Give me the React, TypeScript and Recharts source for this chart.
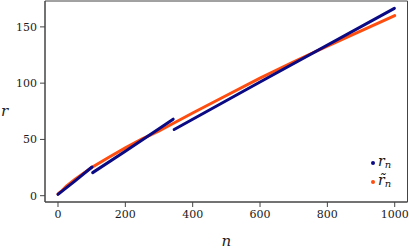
import { ComposedChart, Line, XAxis, YAxis, ReferenceArea } from "recharts";

const xTicks = [0, 200, 400, 600, 800, 1000];
const yTicks = [0, 50, 100, 150];

// r_n comes in three straight-ish pieces with jumps between them
const rSeg1N = [0, 50, 101];
const rSeg1 = [1.2, 13, 25.5];
const rSeg2N = [103, 200, 342];
const rSeg2 = [20.5, 39.5, 68];
const rSeg3N = [345, 600, 999];
const rSeg3 = [58.8, 101, 166.5];

// smoothed estimate
const rTildeN = [0, 10, 25, 50, 100, 150, 200, 250, 300, 350, 400, 500, 600, 700, 800, 900, 1000];
const rTilde = [1.5, 4, 8.5, 14.5, 25, 34, 42.5, 50.5, 57.5, 65.5, 73.5, 89, 104.5, 119, 133, 146.5, 160];

const toRows = (ns: number[], vs: number[]) => ns.map((n, i) => ({ n, r: vs[i] }));

const BLUE = "#0a0a84";
const ORANGE = "#ff4d0f";
const FONT = "'DejaVu Serif', serif";
const xDomain: [number, number] = [-38.6, 1038];
const yDomain: [number, number] = [-5.6, 173];

const legendItems = [
  { color: BLUE, base: "r" },
  { color: ORANGE, base: "r\u0303" },
];

function LegendBox() {
  return (
    <div
      style={{
        position: "absolute",
        left: 371,
        top: 154,
        width: 36,
        fontFamily: FONT,
        lineHeight: 1,
      }}
    >
      {legendItems.map((it) => (
        <div
          key={it.base}
          style={{ display: "flex", alignItems: "center", height: 18.6 }}
        >
          <span
            style={{
              width: 4,
              height: 4,
              borderRadius: 2,
              background: it.color,
              marginRight: 3,
              flex: "none",
            }}
          />
          <span style={{ fontStyle: "italic", fontSize: 14, color: "#111", position: "relative", top: -2 }}>
            {it.base}
          </span>
          <span style={{ fontStyle: "italic", fontSize: 10, color: "#111", position: "relative", top: 2 }}>
            n
          </span>
        </div>
      ))}
    </div>
  );
}

export default function App() {
  const tickStyle = { fontSize: 11, fontFamily: FONT, fill: "#1a1a1a" };
  return (
    <div style={{ position: "absolute", left: 0, top: 0, width: 409, height: 249, background: "#fff" }}>
      <ComposedChart
        width={409}
        height={249}
        margin={{ top: 1, right: 1.5, left: 0, bottom: 0 }}
      >
        <XAxis
          dataKey="n"
          type="number"
          domain={xDomain}
          ticks={xTicks}
          allowDataOverflow
          height={47}
          stroke="#444"
          tickSize={5}
          tickMargin={3}
          tick={tickStyle}
          label={{
            value: "n",
            position: "insideBottom",
            offset: 3,
            style: { fontFamily: FONT, fontStyle: "italic", fontSize: 15, fill: "#222" },
          }}
        />
        <YAxis
          type="number"
          domain={yDomain}
          ticks={yTicks}
          allowDataOverflow
          width={45}
          stroke="#444"
          tickSize={5}
          tickMargin={3}
          tick={tickStyle}
          label={{
            value: "r",
            angle: 0,
            position: "insideLeft",
            offset: 1,
            dy: 9,
            style: { fontFamily: FONT, fontStyle: "italic", fontSize: 15, fill: "#222" },
          }}
        />
        <ReferenceArea
          x1={xDomain[0]}
          x2={xDomain[1]}
          y1={yDomain[0]}
          y2={yDomain[1]}
          fill="none"
          stroke="#444"
          strokeWidth={1}
          ifOverflow="visible"
        />
        <Line
          data={toRows(rTildeN, rTilde)}
          dataKey="r"
          type="linear"
          stroke={ORANGE}
          strokeWidth={3}
          strokeLinecap="round"
          dot={false}
          isAnimationActive={false}
        />
        <Line
          data={toRows(rSeg1N, rSeg1)}
          dataKey="r"
          type="linear"
          stroke={BLUE}
          strokeWidth={3}
          strokeLinecap="round"
          dot={false}
          isAnimationActive={false}
        />
        <Line
          data={toRows(rSeg2N, rSeg2)}
          dataKey="r"
          type="linear"
          stroke={BLUE}
          strokeWidth={3}
          strokeLinecap="round"
          dot={false}
          isAnimationActive={false}
        />
        <Line
          data={toRows(rSeg3N, rSeg3)}
          dataKey="r"
          type="linear"
          stroke={BLUE}
          strokeWidth={3}
          strokeLinecap="round"
          dot={false}
          isAnimationActive={false}
        />
      </ComposedChart>
      <LegendBox />
    </div>
  );
}
